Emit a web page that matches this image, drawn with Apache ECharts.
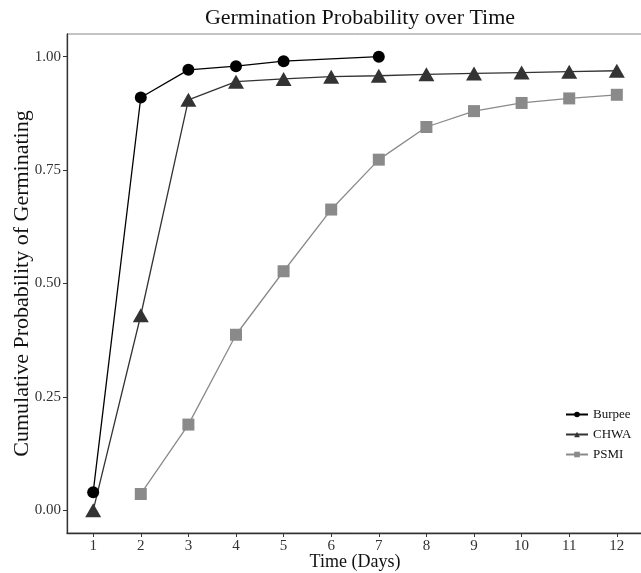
<!DOCTYPE html>
<html lang="en">
<head>
    <meta charset="UTF-8">
    <title>Germination Probability over Time</title>
    <script src="https://cdn.jsdelivr.net/npm/echarts@6/dist/echarts.min.js"></script>
</head>
<body style="margin:0;background:#fff;">
    <div id="main" style="width: 641px;height:573px;"></div>
    <script>
        // days on the x axis
        var dayTicks = [1, 2, 3, 4, 5, 6, 7, 8, 9, 10, 11, 12];
        var probTicks = [0, 0.25, 0.5, 0.75, 1];

        // Burpee has no day 6 point
        var burpeeDays = [1, 2, 3, 4, 5, 7];
        var burpeeProb = [0.04, 0.91, 0.971, 0.979, 0.99, 1.0];

        var chwaDays = [1, 2, 3, 4, 5, 6, 7, 8, 9, 10, 11, 12];
        var chwaProb = [0.0, 0.43, 0.905, 0.945, 0.951, 0.956, 0.958, 0.961, 0.963, 0.965, 0.967, 0.969];

        var psmiDays = [2, 3, 4, 5, 6, 7, 8, 9, 10, 11, 12];
        var psmiProb = [0.036, 0.189, 0.387, 0.527, 0.663, 0.773, 0.845, 0.88, 0.898, 0.908, 0.916];

        function pairs(xs, ys) {
            var out = [];
            for (var i = 0; i < xs.length; i++) out.push([xs[i], ys[i]]);
            return out;
        }

        var serif = '"Liberation Serif", "DejaVu Serif", serif';
        var myChart = echarts.init(document.getElementById('main'));

        var option = {
            backgroundColor: '#fff',
            animation: false,
            textStyle: { fontFamily: serif },
            title: {
                text: 'Germination Probability over Time',
                left: 355,
                textAlign: 'center',
                top: 2,
                textStyle: { fontFamily: serif, fontSize: 22, fontWeight: 'normal', color: '#111' }
            },
            legend: {
                orient: 'vertical',
                left: 560,
                top: 403,
                itemWidth: 22,
                itemHeight: 7,
                itemGap: 7,
                textStyle: { fontFamily: serif, fontSize: 13, color: '#111' },
                data: ['Burpee', 'CHWA', 'PSMI']
            },
            grid: {
                left: 67,
                top: 34,
                width: 576,
                height: 499,
                outerBoundsMode: 'none',
                containLabel: false,
                show: true,
                borderColor: '#888',
                borderWidth: 1
            },
            xAxis: {
                type: 'value',
                min: 0.45,
                max: 12.55,
                name: 'Time (Days)',
                nameLocation: 'middle',
                nameGap: 20,
                nameMoveOverlap: false,
                nameTextStyle: { fontFamily: serif, fontSize: 18, color: '#111' },
                axisLine: { onZero: false, lineStyle: { color: '#333', width: 1.3 } },
                axisTick: { customValues: dayTicks, length: 4, lineStyle: { color: '#333' } },
                axisLabel: {
                    customValues: dayTicks,
                    fontFamily: serif, fontSize: 15, color: '#333', margin: 6
                },
                splitLine: { show: false }
            },
            yAxis: {
                type: 'value',
                min: -0.05,
                max: 1.05,
                name: 'Cumulative Probability of Germinating',
                nameLocation: 'middle',
                nameGap: 34,
                nameMoveOverlap: false,
                nameTextStyle: { fontFamily: serif, fontSize: 22, color: '#111' },
                axisLine: { show: true, onZero: false, lineStyle: { color: '#333', width: 1.3 } },
                axisTick: { show: true, customValues: probTicks, length: 4, lineStyle: { color: '#333' } },
                axisLabel: {
                    customValues: probTicks,
                    fontFamily: serif, fontSize: 15, color: '#333', margin: 6,
                    formatter: function (v) { return v.toFixed(2); }
                },
                splitLine: { show: false }
            },
            series: [
                {
                    name: 'Burpee',
                    type: 'line',
                    data: pairs(burpeeDays, burpeeProb),
                    symbol: 'circle',
                    symbolSize: 12,
                    itemStyle: { color: '#000' },
                    lineStyle: { color: '#000', width: 1.3 }
                },
                {
                    name: 'CHWA',
                    type: 'line',
                    data: pairs(chwaDays, chwaProb),
                    symbol: 'triangle',
                    symbolSize: [16, 14],
                    itemStyle: { color: '#333' },
                    lineStyle: { color: '#333', width: 1.3 }
                },
                {
                    name: 'PSMI',
                    type: 'line',
                    data: pairs(psmiDays, psmiProb),
                    symbol: 'rect',
                    symbolSize: 12,
                    itemStyle: { color: '#8a8a8a' },
                    lineStyle: { color: '#8a8a8a', width: 1.3 }
                }
            ]
        };
        myChart.setOption(option);
    </script>
</body>
</html>
